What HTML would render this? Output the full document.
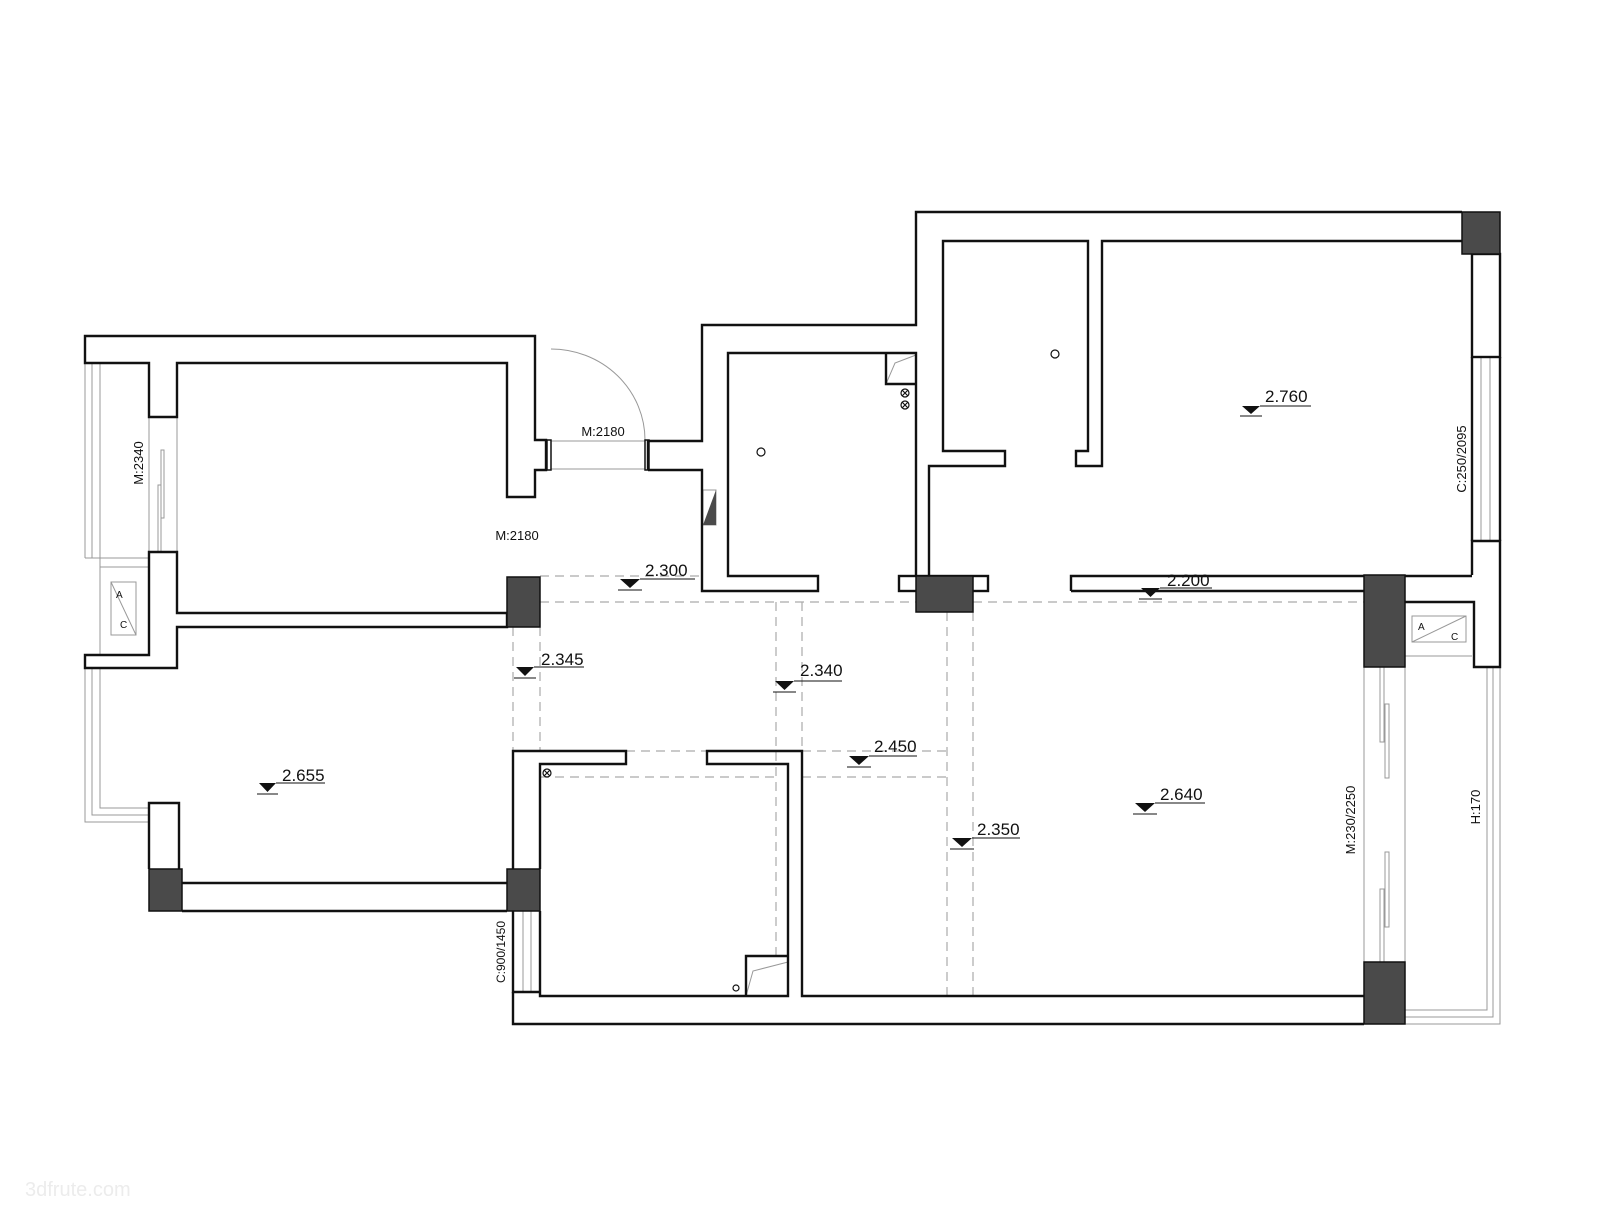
<!DOCTYPE html>
<html><head><meta charset="utf-8"><style>
html,body{margin:0;padding:0;background:#fff;}
svg{display:block;}
text{font-family:"Liberation Sans",sans-serif;fill:#111;}
</style></head><body>
<svg width="1600" height="1212" viewBox="0 0 1600 1212" xmlns="http://www.w3.org/2000/svg">
<g fill="none" stroke="#aaa" stroke-width="1.2" stroke-dasharray="9,6">
<path d="M540,576 H700"/>
<path d="M540,602 H916 M973,602 H1364"/>
<path d="M513,627 V751 M540,627 V751"/>
<path d="M776,602 V956 M802,602 V751"/>
<path d="M947,612 V996 M973,612 V996"/>
<path d="M626,751 H707 M802,751 H947"/>
<path d="M540,777 H776 M802,777 H947"/>
</g>
<g fill="none" stroke="#999" stroke-width="1">
<path d="M85,363 V558 M92,363 V558 M100,363 V655 M85,558 H149 M100,567 H149"/>
<path d="M149,417 V552 M177,417 V552"/>
<rect x="161" y="450" width="3" height="68"/>
<rect x="158" y="485" width="3" height="67"/>
<rect x="111" y="582" width="25" height="53"/>
<path d="M111,582 L136,635"/>
<path d="M85,668 V822 H149 M92,668 V815 H149 M100,668 V808 H149"/>
<path d="M551,441 H645 M551,469 H645"/>
<path d="M551,349 A94,91 0 0 1 645,440"/>
<path d="M1481,357 V541 M1490,357 V541"/>
<path d="M1364,667 V962 M1405,667 V962"/>
<rect x="1380" y="667" width="4" height="75"/>
<rect x="1385" y="704" width="4" height="74"/>
<rect x="1385" y="852" width="4" height="75"/>
<rect x="1380" y="889" width="4" height="73"/>
<path d="M1405,1010 H1487 V667 M1405,1017 H1493 V667 M1405,1024 H1500 V667 M1405,656 H1472"/>
<rect x="1412" y="616" width="54" height="26"/>
<path d="M1412,642 L1466,616"/>
<path d="M523,911 V992 M531,911 V992"/>
<path d="M886,384 L895,363 L916,355 M746,996 L753,971 L788,962"/>
<rect x="703" y="490" width="13" height="35"/>
</g>
<g fill="none" stroke="#111" stroke-width="2.4">
<path d="M85,336 H535 V440 H546 V470 H535 V497 H507 V363 H177 V417 H149 V363 H85 Z"/>
<path d="M149,552 H177 V613 H507 V627 H177 V668 H85 V655 H149 Z"/>
<rect x="547" y="440" width="4" height="30" stroke-width="1.5"/>
<rect x="645" y="440" width="4" height="30" stroke-width="1.5"/>
<path d="M648,470 V441 H702 V325 H916 V212 H1462"/>
<path d="M648,470 H702 V591 H818 V576 H728 V353 H916 V576"/>
<path d="M929,576 V466 H1005 V451 H943 V241 H1088 V451 H1076 V466 H1102 V241 H1462"/>
<rect x="1472" y="254" width="28" height="103"/>
<path d="M1472,357 V541 M1500,357 V541"/>
<path d="M1472,575 V541 H1500 V667 H1474 V602 H1405"/>
<path d="M1071,591 H1364 M1071,591 V576 H1472"/>
<rect x="899" y="576" width="89" height="15"/>
<path d="M886,353 V384 H916"/>
<path d="M513,869 V751 H626 V764 H540 V869"/>
<path d="M540,911 V992 M513,911 V992 H540 V996 H788 V764 H707 V751 H802 V996 H1364"/>
<path d="M513,992 V1024 H1364"/>
<path d="M746,996 V956 H788"/>
<path d="M182,883 H507 M182,911 H507"/>
<path d="M149,869 V803 H179 V869"/>
</g>
<g fill="#4a4a4a" stroke="#111" stroke-width="1.5">
<rect x="507" y="577" width="33" height="50"/>
<rect x="1462" y="212" width="38" height="42"/>
<rect x="916" y="576" width="57" height="36"/>
<rect x="1364" y="575" width="41" height="92"/>
<rect x="1364" y="962" width="41" height="62"/>
<rect x="507" y="869" width="33" height="42"/>
<rect x="149" y="869" width="33" height="42"/>
<polygon points="703,525 716,490 716,525" stroke="none"/>
</g>
<g fill="none" stroke="#111" stroke-width="1.2">
<circle cx="761" cy="452" r="4"/>
<circle cx="1055" cy="354" r="4"/>
<circle cx="905" cy="393" r="4"/><path d="M902,390 L908,396 M908,390 L902,396"/>
<circle cx="905" cy="405" r="4"/><path d="M902,402 L908,408 M908,402 L902,408"/>
<circle cx="547" cy="773" r="4"/><path d="M544,770 L550,776 M550,770 L544,776"/>
<circle cx="736" cy="988" r="3"/>
</g>
<g fill="#111">
<polygon points="620,579 640,579 630,588"/>
<polygon points="1141,588 1160,588 1150.5,597"/>
<polygon points="516,667 534,667 525,676"/>
<polygon points="775,681 794,681 784.5,690"/>
<polygon points="849,756 869,756 859,765"/>
<polygon points="952,838 972,838 962,847"/>
<polygon points="1135,803 1155,803 1145,812"/>
<polygon points="1242,406 1260,406 1251,414"/>
<polygon points="259,783 276,783 267.5,792"/>
</g>
<g stroke="#111" stroke-width="1">
<path d="M618,590 H642 M640,579 H695"/>
<path d="M1139,599 H1162 M1160,588 H1212"/>
<path d="M514,678 H536 M534,667 H584"/>
<path d="M773,692 H796 M794,681 H842"/>
<path d="M847,767 H871 M869,756 H917"/>
<path d="M950,849 H974 M972,838 H1020"/>
<path d="M1133,814 H1157 M1155,803 H1205"/>
<path d="M1240,416 H1262 M1260,406 H1311"/>
<path d="M257,794 H278 M276,783 H325"/>
</g>
<g font-size="17">
<text x="645" y="576">2.300</text>
<text x="1167" y="586">2.200</text>
<text x="541" y="665">2.345</text>
<text x="800" y="676">2.340</text>
<text x="874" y="752">2.450</text>
<text x="977" y="835">2.350</text>
<text x="1160" y="800">2.640</text>
<text x="1265" y="402">2.760</text>
<text x="282" y="781">2.655</text>
</g>
<g font-size="13">
<text x="603" y="436" text-anchor="middle">M:2180</text>
<text x="517" y="540" text-anchor="middle">M:2180</text>
<text transform="translate(143,463) rotate(-90)" text-anchor="middle">M:2340</text>
<text transform="translate(1466,459) rotate(-90)" text-anchor="middle">C:250/2095</text>
<text transform="translate(1355,820) rotate(-90)" text-anchor="middle">M:230/2250</text>
<text transform="translate(1480,807) rotate(-90)" text-anchor="middle">H:170</text>
<text transform="translate(505,952) rotate(-90)" text-anchor="middle" font-size="12">C:900/1450</text>
<text x="116" y="598" font-size="10">A</text>
<text x="120" y="628" font-size="10">C</text>
<text x="1418" y="630" font-size="10">A</text>
<text x="1451" y="640" font-size="10">C</text>
</g>
<text x="25" y="1196" font-size="20" style="fill:#ececec">3dfrute.com</text>
</svg>
</body></html>
